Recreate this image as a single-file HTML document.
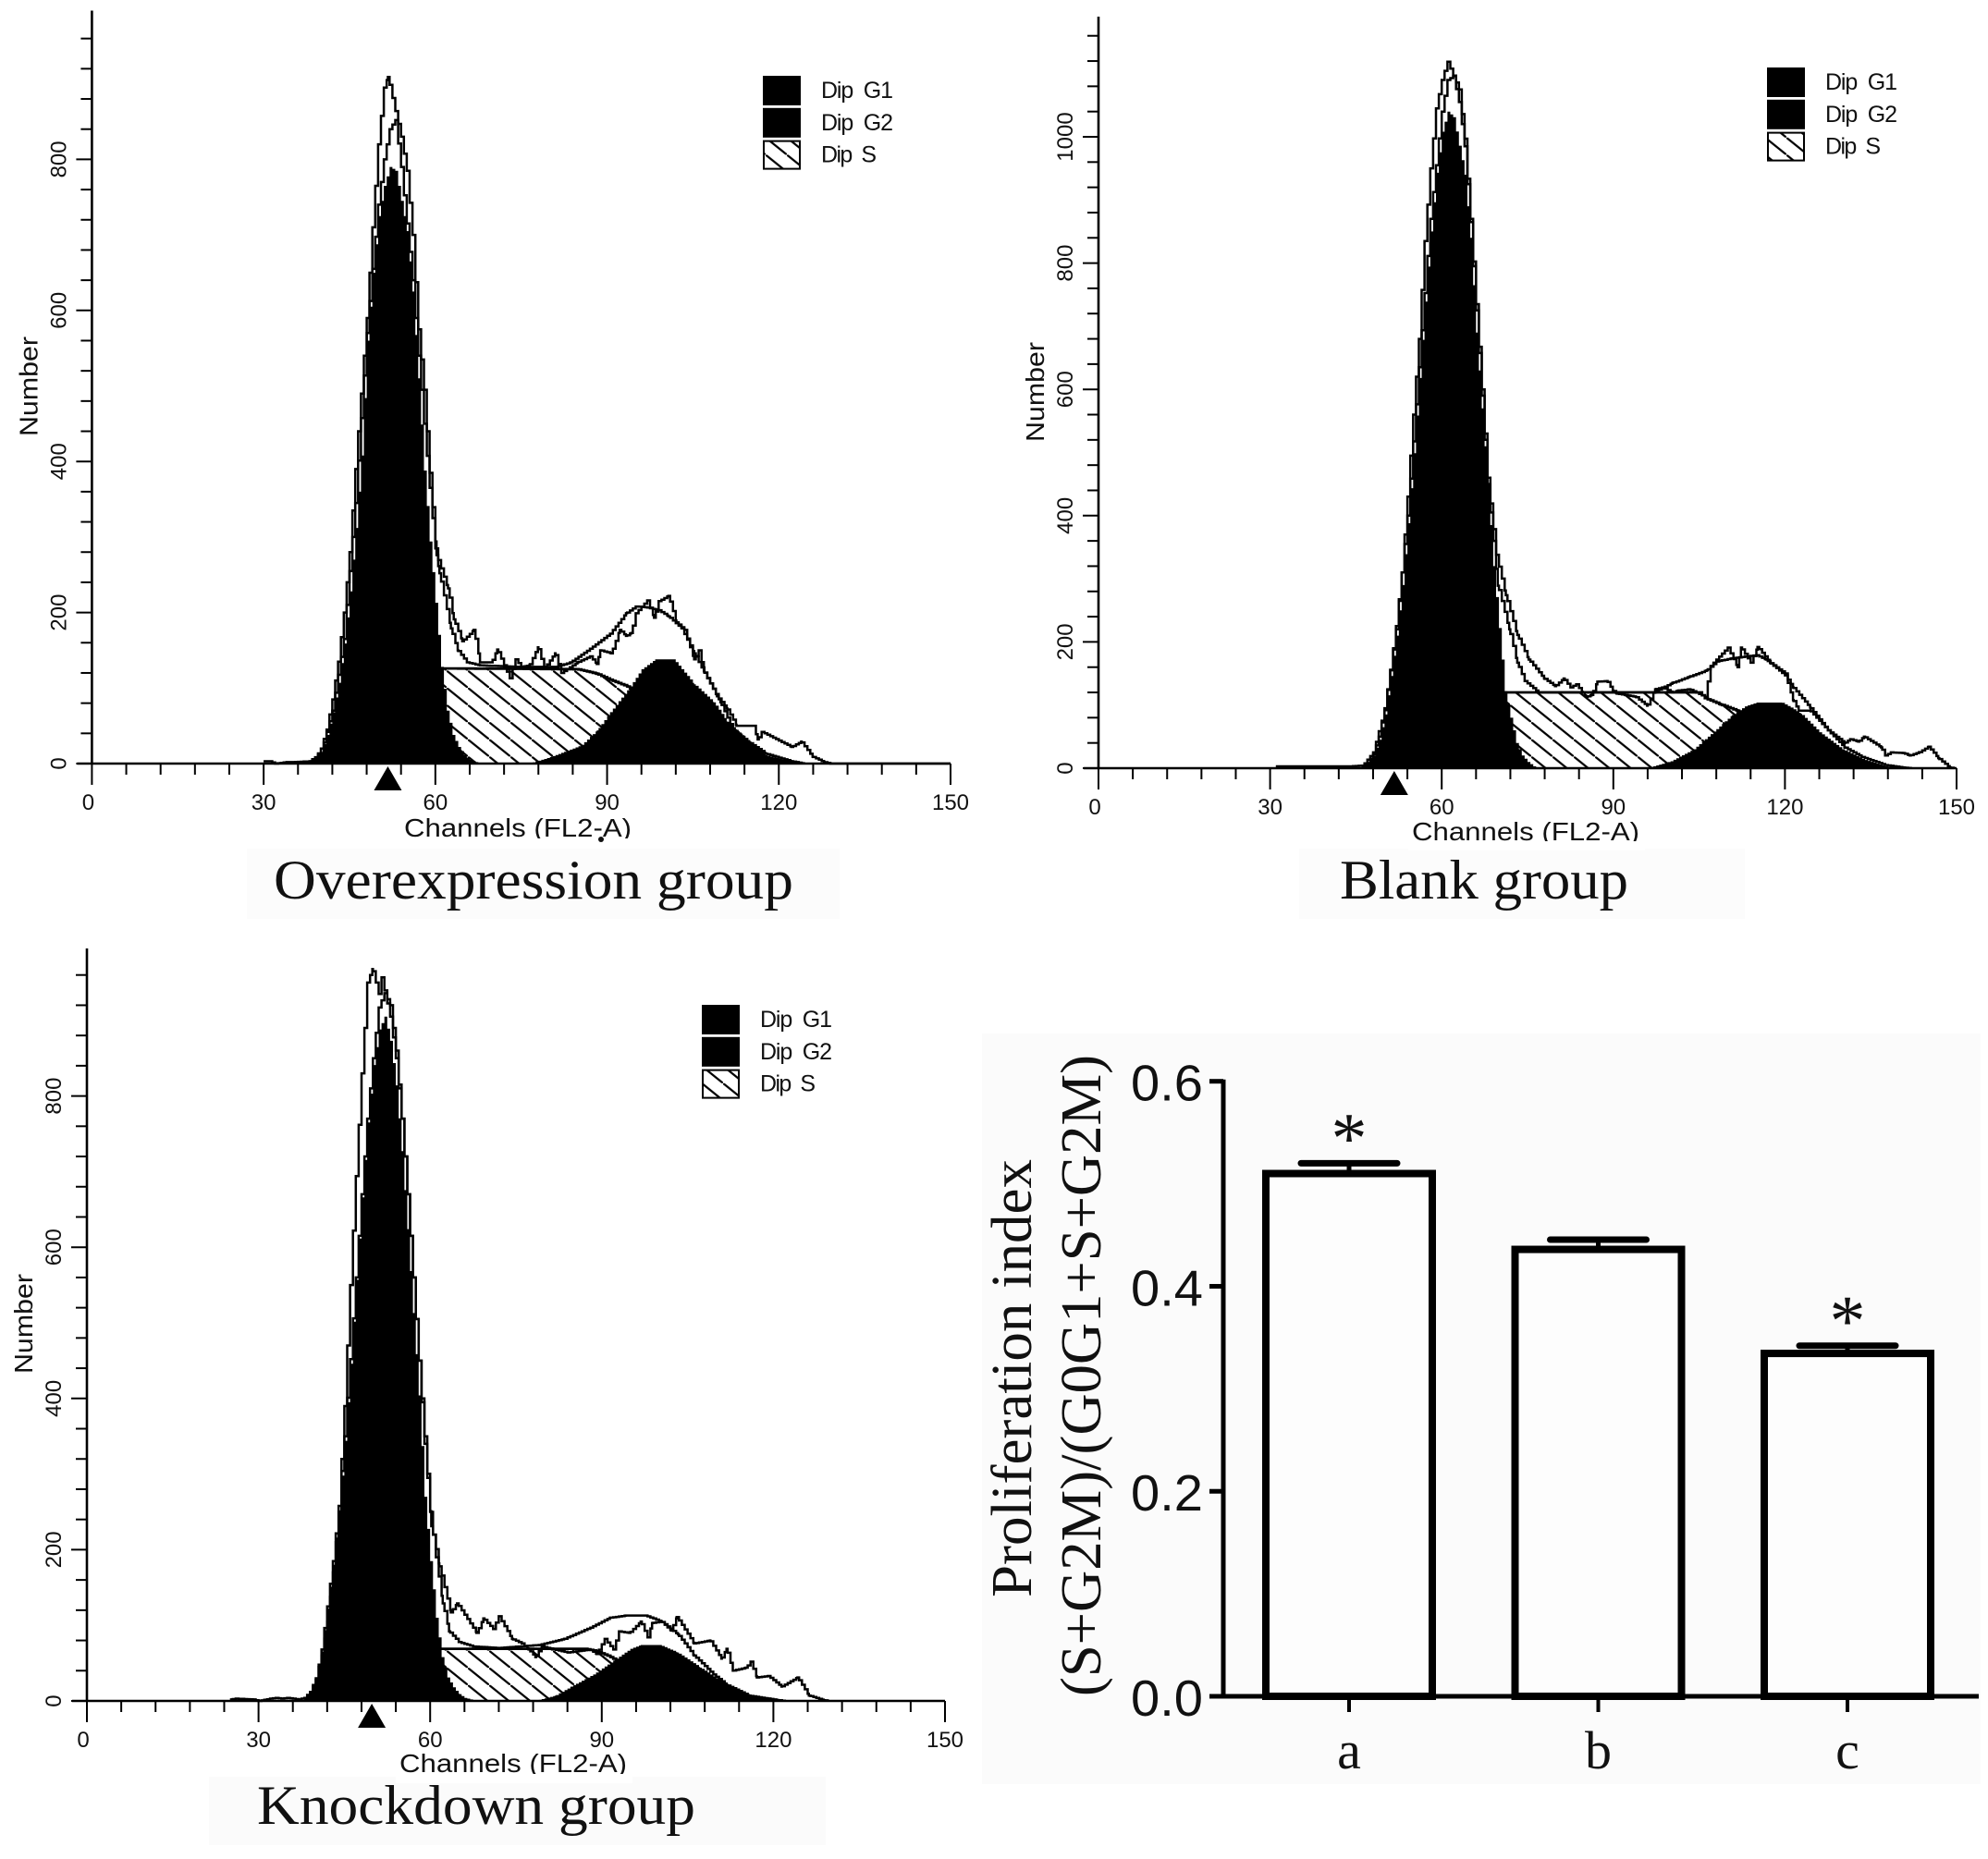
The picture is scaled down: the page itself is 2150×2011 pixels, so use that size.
<!DOCTYPE html>
<html lang="en">
<head>
<meta charset="utf-8">
<title>Cell cycle histograms and proliferation index</title>
<style>
html,body{margin:0;padding:0;background:#fff;}
svg{display:block;}
text{font-family:"Liberation Sans",sans-serif;fill:#111;}
.serif{font-family:"Liberation Serif",serif;}
</style>
</head>
<body>
<svg id="figure" xmlns="http://www.w3.org/2000/svg" width="2150" height="2011" viewBox="0 0 2150 2011">
  <defs>
    <pattern id="hatch" patternUnits="userSpaceOnUse" width="23" height="18.6">
      <path d="M-2.3,-1.86 L25.3,20.46" stroke="#000" stroke-width="2.2" fill="none"/>
    </pattern>
  </defs>
  <rect x="0" y="0" width="2150" height="2011" fill="#fff"/>

  <rect x="267" y="918" width="641" height="76" fill="#fcfcfc"/>
  <rect x="1405" y="918" width="482" height="76" fill="#fcfcfc"/>
  <rect x="226" y="1922" width="667" height="74" fill="#fbfbfb"/>
  <rect x="1062" y="1118" width="1080" height="812" fill="#fbfbfb"/>

  <g id="panel-overexpression"></g>
  <g id="panel-blank"></g>
  <g id="panel-knockdown"></g>
  <g id="panel-bars"></g>

  <circle cx="650" cy="908" r="3" fill="#111"/>
  <text class="serif" x="296" y="972" font-size="60" textLength="562" lengthAdjust="spacingAndGlyphs">Overexpression group</text>
  <text class="serif" x="1449" y="972" font-size="60" textLength="312" lengthAdjust="spacingAndGlyphs">Blank group</text>
  <text class="serif" x="278" y="1973" font-size="60" textLength="474" lengthAdjust="spacingAndGlyphs">Knockdown group</text>
</svg>

<script>
/* ---------- Shared tick labels ---------- */
const xTickLabels = [0, 30, 60, 90, 120, 150];
const legendLabels = ["Dip\u00A0\u00A0G1", "Dip\u00A0\u00A0G2", "Dip\u00A0\u00A0S"];
const yTicksStandard = [0, 200, 400, 600, 800];
const yTicksBlank = [0, 200, 400, 600, 800, 1000];

/* ---------- Overexpression group ---------- */
const p1Marker = 51.7;
const p1G1First = 38;
const p1G1 = [3,6,14,38,68,107,159,228,312,408,560,650,725,765,790,785,745,705,625,510,388,294,213,128,70,38,22,11,5,2,0];
const p1G2Channels = [76,76.8,80.2,85.4,88.2, 90.5,93.9,96,98.4,101.6, 103,105.2,108.6,110.9,114.3, 117.7,122.2,125];
const p1G2Counts   = [0,1,9,24,44, 68,101,125,138,138, 125,105,81,56,32, 11,2,0];
const p1SChannels = [61.3,84.8,88.2,90.5,93.6,97,100,105,108];
const p1SCounts   = [126,125,119,111,102,80,50,10,0];
const p1FitChannels = [38,40,42,44,46, 48,50,51,52,53, 54,55,56,57,58, 59,60,60.7,62.7,63.9, 65.5,67.8,75,81,83.6, 87,90.5,93.3,95,96.7, 99,100.7,103,105.2,107.5, 109.8,112,114.8,117.7,122.2, 124.4];
const p1FitCounts   = [3,14,70,165,345, 570,740,800,840,852, 790,715,640,540,450, 365,285,252,179,150, 134,130,128,128,134, 152,172,199,208,207, 203,195,179,146,113, 81,44,28,13,3, 0];
const p1DataChannels = [30,31,32,34,35, 38,39,40,41,42, 43,44,45,46,47, 48,49,50,51,51.7, 53,54,55,56,57, 58,59,60.2,62.2,63.2, 64.7,66.7,67.8,69.8,70.8, 73,74,75,76.4,77.9, 79,80.9,82,84.8,87, 88.2,88.8,90.7,92.2,93.3, 94.2,95,97,98.2,99, 100.7,102.1,103.5,105.2,106, 106.9,109.2,110.9,112.6,115.5, 116.3,117,122.2,123.9,125.9, 127.9,129,150];
const p1DataCounts   = [3,3,0,2,2, 3,7,20,45,85, 135,200,280,390,490, 590,710,820,895,909, 864,830,785,700,575, 495,385,276,232,191, 162,177,134,134,151, 113,138,128,130,154, 126,146,120,134,142, 132,150,146,177,169, 173,199,216,193,215, 222,187,177,138,150, 122,89,73,50,50, 32,42,22,29,9, 2,0,0];

/* ---------- Blank group ---------- */
const p2Marker = 51.7;
const p2G1First = 46;
const p2G1 = [3,8,20,45,85,146,210,290,388,499,618,739,850,943,1008,1040,1031,986,940,840,690,570,450,320,222,122,80,40,20,10,3,0];
const p2G2Channels = [95,96.6,100,104,108, 110.7,113,115,119.4,121, 122.8,126,130,134,137.5, 140.7,143];
const p2G2Counts   = [0,2,11,30,62, 84,98,104,104,96, 86,57,30,13,3, 1,0];
const p2SChannels = [70.5,105,106,108.7,111.7,114,118,122];
const p2SCounts   = [120,120,111,101,91,75,40,0];
const p2FitChannels = [46,48,50,52,54, 56,58,60,61,62, 63,64,65,66,67, 68,69,69.8,71.8,73.2, 74.5,76.9,79.8,97,100.3, 103.3,106.3,108,110.7,115, 116.7,120,121.4,124.4,127.5, 130.4,133.4,137.5,140.7,142];
const p2FitCounts   = [2,25,92,220,400, 635,870,1040,1090,1096, 1055,985,865,725,590, 450,360,289,220,167, 138,120,120,120,135, 145,155,169,174,179, 172,147,128,96,60, 33,18,5,1,0];
const p2DataChannels = [31,34,36,38,40, 42,44,46,47,48, 49,50,51,52,53, 54,55,56,57,58, 59,60,61,62,63, 64,65,66,67,68, 69.5,71.2,73.2,75.2,77.9, 79.8,81.3,82.5,83.5,84.6, 85.2,86.2,87.2,88.9,89.9, 90.6,93.9,95.9,97.3,98.6, 100.3,101.3,103.3,106,107, 108,110,111.7,112.3,114, 115.2,117.4,120,121.4,122.4, 124.4,127.5,130.4,131.4,132.8, 133.8,136.8,137.5,138.5,140.7, 141.8,143.4,145.1,146.8,148.8, 149.5];
const p2DataCounts   = [3,3,3,3,3, 3,3,4,8,22, 50,95,155,225,310, 430,560,680,835,950, 1045,1090,1119,1097,1075, 997,870,735,600,460, 338,274,211,172,142, 130,142,128,133,120, 113,116,137,138,123, 118,113,99,125,128, 120,123,125,113,162, 172,191,160,191,167, 192,167,150,108,91, 91,60,40,46,42, 50,33,20,25,24, 20,25,34,16,1, 0];

/* ---------- Knockdown group ---------- */
const p3Marker = 49.8;
const p3G1First = 38;
const p3G1 = [4,12,30,65,122,180,252,344,446,557,666,765,841,888,905,873,814,727,624,513,404,270,185,110,58,31,18,9,4,2,0];
const p3G2Channels = [77,78.8,81.8,84.6,88.5, 92.5,95,96.8,100.1,103.2, 107.2,111.8,115.7,120.8,123];
const p3G2Counts   = [0,1,7,19,35, 56,69,74,74,64, 44,21,8,1,0];
const p3SChannels = [61.6,87,89,91.6,94,97,100,103];
const p3SCounts   = [69,69,66,58,45,25,10,0];
const p3FitChannels = [38,39,40,41,42, 43,44,45,46,47, 48,49,50,51,52, 53,54,55,56,57, 58,59,60,61,62.2, 63.3,65,67.5,72,79, 83.4,88,91.4,94.2,97.6, 100.4,103.3,106.1,109.5,111.8, 115.7,120.8,122];
const p3FitCounts   = [4,10,28,68,125, 185,258,350,452,560, 670,770,850,917,936, 920,860,770,670,560, 450,340,250,190,129, 92,78,72,70,74, 82,97,110,113,113, 105,88,60,35,21, 7,1,0];
const p3DataChannels = [25,26,29,30,32, 33,34,35,36,37, 38,39,40,41,42, 43,44,45,46,47, 48,49,49.9,51,51.5, 53,54,55,56,57, 58,59,60.2,61.6,63.6, 64.7,68.1,69.3,71,72, 74.3,76,77.2,78.4,79.5, 84,87.9,89.1,90.5,92, 93,94.8,96.8,98,98.8, 100.4,102.1,103.1,106.1,108.9, 110.9,111.8,112.9,115.2,116, 117.1,119.1,121.4,124.2,126.2, 128.8,129.5];
const p3DataCounts   = [2,3,2,0,3, 4,3,4,3,2, 4,12,30,60,105, 170,250,390,550,694, 830,950,968,935,957, 905,850,770,670,560, 450,350,231,178,117, 129,90,109,95,112, 82,76,68,58,72, 64,68,62,82,68, 92,90,105,84,103, 105,93,111,76,80, 56,69,40,44,52, 31,33,19,31,7, 1,0];

/* ---------- Proliferation bar chart ---------- */
const barCategories = ["a", "b", "c"];
const barValues = [0.51, 0.436, 0.3345];
const barErrorTops = [0.52, 0.4455, 0.342];
const barSignificant = [true, false, true];
const barTickLabels = ["0.0", "0.2", "0.4", "0.6"];
const barTickValues = [0, 0.2, 0.4, 0.6];

const SVGNS = "http://www.w3.org/2000/svg";

function add(parent, tag, name, attrs, content) {
  const el = document.createElementNS(SVGNS, tag);
  for (const k in attrs) el.setAttribute(k, attrs[k]);
  
  
  if (content !== undefined) el.textContent = content;
  parent.appendChild(el);
  return el;
}

/* Instrument-style staircase: half-channel bins between the read values */
function stairPath(chs, vals, xs, ys) {
  const pts = [];
  const set = new Set(chs);
  for (let c = Math.ceil(chs[0] * 2) / 2; c <= chs[chs.length - 1]; c += 0.5) set.add(c);
  const samples = Array.from(set).sort((a, b) => a - b);
  let k = 0;
  samples.forEach(c => {
    while (k < chs.length - 2 && chs[k + 1] < c) k++;
    const c0 = chs[k], c1 = chs[k + 1];
    const t = c1 === c0 ? 0 : Math.min(1, Math.max(0, (c - c0) / (c1 - c0)));
    pts.push([xs(c), ys(vals[k] + (vals[k + 1] - vals[k]) * t)]);
  });
  let d = "M" + pts[0][0].toFixed(1) + "," + pts[0][1].toFixed(1);
  for (let i = 1; i < pts.length; i++) {
    d += " L" + pts[i][0].toFixed(1) + "," + pts[i - 1][1].toFixed(1) + " L" + pts[i][0].toFixed(1) + "," + pts[i][1].toFixed(1);
  }
  return d;
}

function drawHistogram(g, cfg, d) {
  const xs = c => cfg.x0 + (c / 150) * (cfg.x150 - cfg.x0);
  const ys = v => cfg.base - v * cfg.yScale;
  const close = chs => " L" + xs(chs[chs.length - 1]).toFixed(1) + "," + cfg.base + " L" + xs(chs[0]).toFixed(1) + "," + cfg.base + " Z";

  /* S phase */
  const sLine = stairPath(d.sCh, d.sV, xs, ys);
  add(g, "path", "dip-s-area", { d: sLine + close(d.sCh), fill: "url(#hatch)", stroke: "none" });
  add(g, "path", "dip-s-top-line", { d: sLine, fill: "none", stroke: "#000", "stroke-width": 2.8 });

  /* G1 */
  const g1Ch = d.g1.map((v, i) => d.g1First + i);
  add(g, "path", "dip-g1-peak", { d: stairPath(g1Ch, d.g1, xs, ys) + close(g1Ch), fill: "#000" });

  /* G2 */
  add(g, "path", "dip-g2-peak", { d: stairPath(d.g2Ch, d.g2V, xs, ys) + close(d.g2Ch), fill: "#000" });

  /* Fit and data */
  add(g, "path", "model-fit-line", { d: stairPath(d.fitCh, d.fitV, xs, ys), fill: "none", stroke: "#000", "stroke-width": 2.5 });
  add(g, "path", "measured-data-line", { d: stairPath(d.dataCh, d.dataV, xs, ys), fill: "none", stroke: "#000", "stroke-width": 2.5 });

  /* Axes */
  add(g, "line", "x-axis-line", { x1: cfg.x0 - 16, x2: cfg.x150, y1: cfg.base, y2: cfg.base, stroke: "#000", "stroke-width": 2.6 });
  add(g, "line", "y-axis-line", { x1: cfg.x0, x2: cfg.x0, y1: cfg.top, y2: cfg.base, stroke: "#000", "stroke-width": 2.6 });

  for (let c = 0; c <= 150; c += 6) {
    const major = c % 30 === 0;
    add(g, "line", major ? "x-major-tick" : "x-minor-tick", { x1: xs(c), x2: xs(c), y1: cfg.base, y2: cfg.base + (major ? 23 : 12), stroke: "#000", "stroke-width": 2 });
  }
  xTickLabels.forEach(t => {
    add(g, "text", "x-tick-label", { x: xs(t) - (t === 0 ? 4 : 0), y: cfg.base + 50, "font-size": 24, "text-anchor": "middle" }, String(t));
  });

  for (let v = 0; v <= cfg.minorMax; v += 40) {
    const major = v % 200 === 0;
    add(g, "line", major ? "y-major-tick" : "y-minor-tick", { x1: cfg.x0 - (major ? 17 : 12), x2: cfg.x0, y1: ys(v), y2: ys(v), stroke: "#000", "stroke-width": 2 });
  }
  d.yTicks.forEach(t => {
    const lx = cfg.x0 - 28;
    add(g, "text", "y-tick-label", { x: lx, y: ys(t), "font-size": 24, "text-anchor": "middle", transform: "rotate(-90 " + lx + " " + ys(t) + ")" }, String(t));
  });

  const nx = cfg.x0 - 59;
  add(g, "text", "y-axis-title", { x: nx, y: cfg.numberY, "font-size": 28, "text-anchor": "middle", textLength: 108, lengthAdjust: "spacingAndGlyphs", transform: "rotate(-90 " + nx + " " + cfg.numberY + ")" }, "Number");

  add(g, "text", "x-axis-title", { x: cfg.titleX, y: cfg.titleY, "font-size": 28, textLength: 246, lengthAdjust: "spacingAndGlyphs" }, "Channels (FL2-A)");
  add(g, "rect", "x-axis-title-crop", { x: cfg.titleX - 4, y: cfg.titleY + cfg.clip, width: 256, height: 10, fill: "#fff" });

  /* Marker */
  const mx = xs(d.marker);
  add(g, "path", "peak-marker-triangle", { d: "M" + mx + "," + (cfg.base + 3) + " L" + (mx + 15) + "," + (cfg.base + 29) + " L" + (mx - 15) + "," + (cfg.base + 29) + " Z", fill: "#000" });

  /* Legend */
  legendLabels.forEach((label, i) => {
    const top = cfg.legY + i * 34.8;
    add(g, "rect", "legend-swatch", { x: cfg.legX, y: top, width: 39, height: 30, fill: i < 2 ? "#000" : "url(#hatch)", stroke: "#000", "stroke-width": 2 });
    add(g, "text", "legend-label", { x: cfg.legX + 62, y: top + 23, "font-size": 25, textLength: i < 2 ? 78 : 60, lengthAdjust: "spacing" }, label);
  });
}

drawHistogram(document.getElementById("panel-overexpression"),
  { x0: 99.4, x150: 1028, base: 826, yScale: 0.817, top: 11.5, minorMax: 960, numberY: 418, titleX: 437, titleY: 905, clip: 2, legX: 826, legY: 83 },
  { g1First: p1G1First, g1: p1G1, g2Ch: p1G2Channels, g2V: p1G2Counts, sCh: p1SChannels, sV: p1SCounts, fitCh: p1FitChannels, fitV: p1FitCounts, dataCh: p1DataChannels, dataV: p1DataCounts, marker: p1Marker, yTicks: yTicksStandard });

drawHistogram(document.getElementById("panel-blank"),
  { x0: 1188, x150: 2116, base: 831, yScale: 0.683, top: 18, minorMax: 1160, numberY: 424, titleX: 1527, titleY: 909, clip: 1, legX: 1912, legY: 74 },
  { g1First: p2G1First, g1: p2G1, g2Ch: p2G2Channels, g2V: p2G2Counts, sCh: p2SChannels, sV: p2SCounts, fitCh: p2FitChannels, fitV: p2FitCounts, dataCh: p2DataChannels, dataV: p2DataCounts, marker: p2Marker, yTicks: yTicksBlank });

drawHistogram(document.getElementById("panel-knockdown"),
  { x0: 94, x150: 1022, base: 1840, yScale: 0.818, top: 1026, minorMax: 960, numberY: 1432, titleX: 432, titleY: 1917, clip: 2, legX: 760, legY: 1088 },
  { g1First: p3G1First, g1: p3G1, g2Ch: p3G2Channels, g2V: p3G2Counts, sCh: p3SChannels, sV: p3SCounts, fitCh: p3FitChannels, fitV: p3FitCounts, dataCh: p3DataChannels, dataV: p3DataCounts, marker: p3Marker, yTicks: yTicksStandard });

/* Bars */
(function () {
  const g = document.getElementById("panel-bars");
  const axisX = 1323, zeroY = 1835, unit = (1835 - 1169.7) / 0.6;
  const ys = v => zeroY - v * unit;
  const xc = i => 1459 + i * 269.5;
  const barW = 180;

  barValues.forEach((v, i) => {
    add(g, "line", "error-bar-stem", { x1: xc(i), x2: xc(i), y1: ys(v), y2: ys(barErrorTops[i]), stroke: "#000", "stroke-width": 5 });
    add(g, "line", "error-bar-cap", { x1: xc(i) - 52, x2: xc(i) + 52, y1: ys(barErrorTops[i]), y2: ys(barErrorTops[i]), stroke: "#000", "stroke-width": 7, "stroke-linecap": "round" });
    add(g, "rect", "bar-" + barCategories[i], { x: xc(i) - barW / 2, y: ys(v), width: barW, height: zeroY - ys(v), fill: "#fdfdfd", stroke: "#000", "stroke-width": 8 });
    add(g, "line", "x-tick", { x1: xc(i), x2: xc(i), y1: zeroY, y2: zeroY + 17, stroke: "#000", "stroke-width": 4 });
    add(g, "text", "x-tick-label", { class: "serif", x: xc(i), y: 1913, "font-size": 58, "text-anchor": "middle" }, barCategories[i]);
    if (barSignificant[i]) {
      add(g, "text", "significance-asterisk", { class: "serif", x: xc(i), y: ys(barErrorTops[i]) - 1, "font-size": 78, "text-anchor": "middle" }, "*");
    }
  });

  add(g, "line", "y-axis-line", { x1: axisX, x2: axisX, y1: ys(0.6) - 2, y2: zeroY, stroke: "#000", "stroke-width": 5 });
  add(g, "line", "x-axis-line", { x1: 1308, x2: 2140, y1: zeroY, y2: zeroY, stroke: "#000", "stroke-width": 5 });

  barTickValues.forEach((t, i) => {
    add(g, "line", "y-tick", { x1: 1308, x2: axisX, y1: ys(t), y2: ys(t), stroke: "#000", "stroke-width": 5 });
    add(g, "text", "y-tick-label", { x: 1301, y: ys(t) + 21, "font-size": 55, "text-anchor": "end", textLength: 78, lengthAdjust: "spacingAndGlyphs" }, barTickLabels[i]);
  });

  add(g, "text", "y-axis-title", { class: "serif", x: 1115, y: 1491, "font-size": 62, "text-anchor": "middle", textLength: 474, lengthAdjust: "spacingAndGlyphs", transform: "rotate(-90 1115 1491)" }, "Proliferation index");
  add(g, "text", "y-axis-formula", { class: "serif", x: 1190, y: 1488, "font-size": 62, "text-anchor": "middle", textLength: 694, lengthAdjust: "spacingAndGlyphs", transform: "rotate(-90 1190 1488)" }, "(S+G2M)/(G0G1+S+G2M)");
})();
</script>
</body>
</html>
